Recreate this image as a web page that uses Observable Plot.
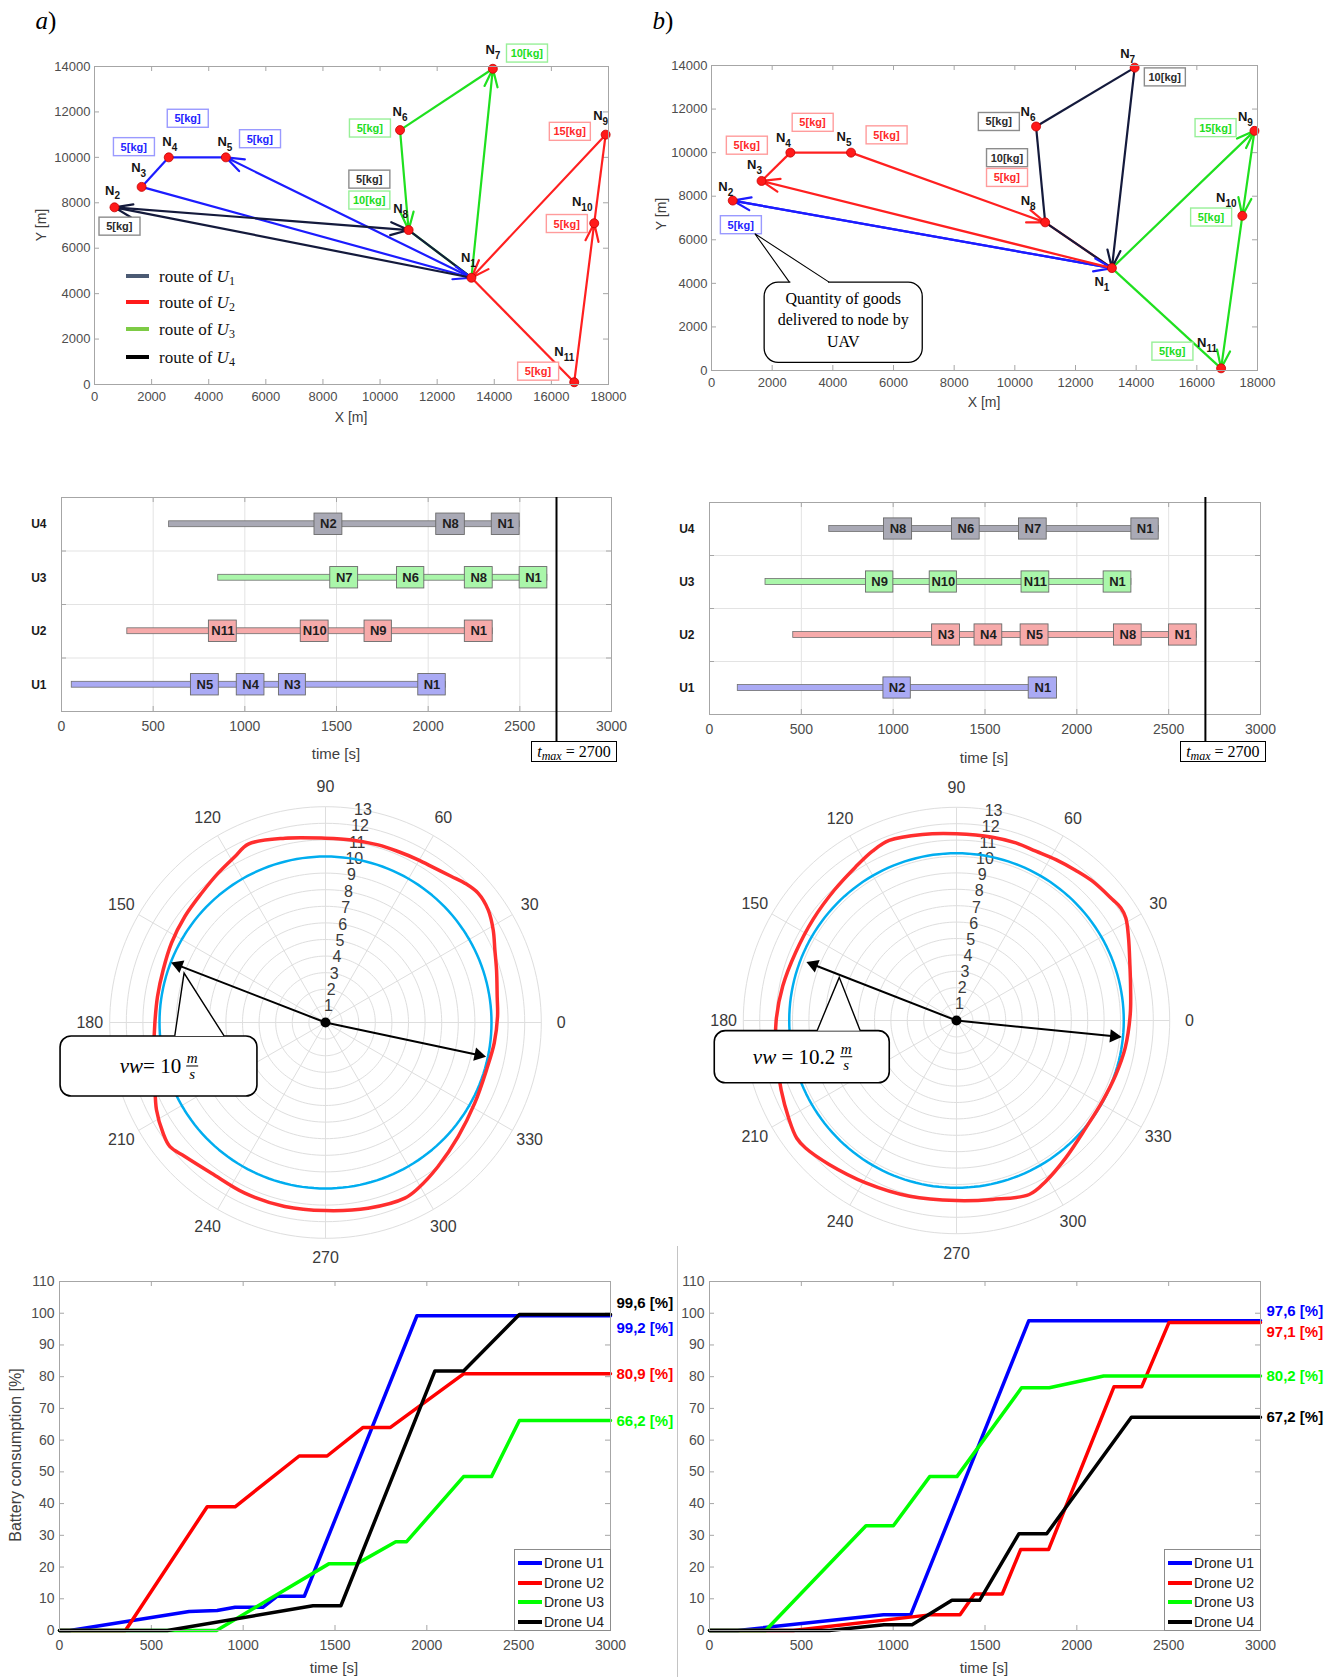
<!DOCTYPE html>
<html>
<head>
<meta charset="utf-8">
<script src="https://cdn.jsdelivr.net/npm/d3@7"></script>
<script src="https://cdn.jsdelivr.net/npm/@observablehq/plot@0.6"></script>
<style>
  html,body{margin:0;padding:0;background:#fff;}
  #page{position:relative;width:1341px;height:1677px;overflow:hidden;background:#fff;font-family:"Liberation Sans",Arial,Helvetica,sans-serif;color:#404040;}
  .lbl{position:absolute;white-space:nowrap;transform:translate(-50%,-50%);line-height:1;}
  .rot{transform:translate(-50%,-50%) rotate(-90deg);}
  .gantt g[aria-label="y-axis tick label"] text{font-weight:bold;fill:#1a1a1a;}
  .leg{position:absolute;border:1px solid #8c8c8c;background:#fff;box-sizing:border-box;}
  .legline{position:absolute;height:4px;}
  .legtxt{position:absolute;white-space:nowrap;transform:translateY(-50%);line-height:1;}
</style>
</head>
<body>
<div id="page"></div>
<script>
// ================= DATA =================
const nodeNames = ["N1","N2","N3","N4","N5","N6","N7","N8","N9","N10","N11"];
const nodeX = [13200, 700, 1650, 2600, 4600, 10700, 13950, 11000, 17900, 17500, 16800];
const nodeY = [4700, 7800, 8700, 10000, 10000, 11200, 13900, 6800, 11000, 7100, 100];
const mapXTicks = [0,2000,4000,6000,8000,10000,12000,14000,16000,18000];
const mapYTicks = [0,2000,4000,6000,8000,10000,12000,14000];

// route: drone, node sequence, arrowhead on each leg
const routesA = [
  ["U1", ["N1","N5","N4","N3","N1"], [1,0,0,1]],
  ["U2", ["N1","N11","N10","N9","N1"], [0,1,0,1]],
  ["U3", ["N1","N7","N6","N8","N1"], [1,0,1,0]],
  ["U4", ["N1","N2","N8","N1"], [1,1,0]]
];
const routesB = [
  ["U1", ["N1","N2","N1"], [1,1]],
  ["U2", ["N1","N3","N4","N5","N8","N1"], [1,0,0,1,0]],
  ["U3", ["N1","N9","N10","N11","N1"], [1,1,1,0]],
  ["U4", ["N1","N8","N6","N7","N1"], [0,0,0,1]]
];
// goods labels: x, y, text, drone
const kgA = [
  [3260,11700,"5[kg]","U1"],[5790,10800,"5[kg]","U1"],[1375,10450,"5[kg]","U1"],
  [870,6950,"5[kg]","U4"],[9620,9020,"5[kg]","U4"],
  [9620,8100,"10[kg]","U3"],[9640,11270,"5[kg]","U3"],[15140,14570,"10[kg]","U3"],
  [16640,11125,"15[kg]","U2"],[16535,7066,"5[kg]","U2"],[15530,566,"5[kg]","U2"]
];
const kgB = [
  [14940,13455,"10[kg]","U4"],[9467,11408,"5[kg]","U4"],[9737,9746,"10[kg]","U4"],
  [9737,8841,"5[kg]","U2"],[3330,11370,"5[kg]","U2"],[5767,10795,"5[kg]","U2"],[1160,10320,"5[kg]","U2"],
  [963,6670,"5[kg]","U1"],
  [16612,11125,"15[kg]","U3"],[16466,7023,"5[kg]","U3"],[15190,866,"5[kg]","U3"]
];
const calloutBoxB = [1752, 6964, 353, 4033];
const calloutTailB = [[2584,4033],[1445,6256],[3893,4033]];
const calloutLinesB = [["Quantity of goods",3297],["delivered to node by",2300],["UAV",1319]];
const calloutCenterXB = 4358;

// Gantt
const ganttRows = ["U1","U2","U3","U4"];
const timeTicks = [0,500,1000,1500,2000,2500,3000];
const tmax = 2700;
const ganttStartA = [["U1",56],["U2",359],["U3",855],["U4",587]];
const ganttStopsA = [
  ["U1","N5",706,858],["U1","N4",956,1107],["U1","N3",1186,1333],["U1","N1",1946,2096],
  ["U2","N11",804,956],["U2","N10",1305,1457],["U2","N9",1653,1802],["U2","N1",2200,2352],
  ["U3","N7",1466,1618],["U3","N6",1830,1979],["U3","N8",2200,2352],["U3","N1",2499,2650],
  ["U4","N2",1380,1532],["U4","N8",2044,2200],["U4","N1",2347,2499]
];
const ganttStartB = [["U1",154],["U2",456],["U3",305],["U4",652]];
const ganttStopsB = [
  ["U1","N2",947,1096],["U1","N1",1738,1892],
  ["U2","N3",1212,1364],["U2","N4",1443,1594],["U2","N5",1694,1846],["U2","N8",2202,2353],["U2","N1",2502,2653],
  ["U3","N9",852,1001],["U3","N10",1199,1347],["U3","N11",1699,1850],["U3","N1",2146,2297],
  ["U4","N8",950,1103],["U4","N6",1320,1471],["U4","N7",1685,1836],["U4","N1",2297,2446]
];

// Polar: [angle deg, radius m/s]
const ringValues = [1,2,3,4,5,6,7,8,9,10,11,12,13];
const angleTicks = [0,30,60,90,120,150,180,210,240,270,300,330];
const vwA = 10, vwB = 10.2;
const redA = [
  [2,10.37],[8.6,10.46],[17.1,10.78],[23.2,11.10],[28.9,11.54],[34.7,11.92],[40.3,12.05],[45,11.87],
  [49.2,11.62],[54.7,11.39],[60.3,11.28],[67,11.19],[73.5,11.16],[81.9,11.11],[90,11.10],[102.4,11.37],
  [113.4,11.71],[118.6,11.39],[125.7,11.08],[133.8,10.79],[143,10.61],[152.7,10.44],[162,10.28],[171.2,10.24],
  [180.2,10.28],[189,10.47],[199.6,10.91],[207.3,11.46],[214.3,11.84],[218.5,11.99],[223.6,11.70],[232.9,11.38],
  [244.7,11.37],[257.5,11.35],[270,11.33],[282.9,11.48],[294.3,11.61],[299.2,11.44],[308,11.01],[319.3,10.54],
  [331.6,10.22],[343.6,10.11],[353,10.24]
];
const redB = [
  [2,10.6],[10.6,10.8],[17.9,11.11],[25.7,11.64],[31.2,12.07],[34.4,12.15],[37.8,12.04],[45.7,11.87],
  [51.5,11.69],[58.3,11.53],[64.9,11.40],[71.5,11.42],[78.9,11.39],[90,11.38],[100.4,11.53],[110.5,11.72],
  [116.4,11.53],[123.4,11.2],[133,10.9],[144.8,10.7],[157,10.65],[168.8,10.8],[180.2,11.0],[191.2,11.2],
  [201.6,11.5],[210.4,11.85],[216.4,12.1],[220.2,12.05],[228.5,11.72],[240.8,11.34],[255.1,11.09],[270,10.98],
  [281.4,11.13],[292.7,11.50],[299.1,11.21],[308.5,10.70],[320.3,10.25],[331.1,10.17],[341.3,10.26],[350.8,10.42]
];
const arrowsA = [[158.8,9.96],[348,9.87]];
const arrowsB = [[158.7,9.8],[354.3,10.1]];
const calloutA = {box:[-15.96,-4.10,-0.84,-4.46], tail:[[-9.05,-0.84],[-8.49,2.95],[-6.08,-0.84]], frac:[-8.0,-2.65], lead:"= 10"};
const calloutB = {box:[-14.74,-4.07,-0.65,-3.83], tail:[[-8.47,-0.65],[-7.12,2.60],[-5.84,-0.65]], frac:[-6.69,-2.24], lead:" = 10.2"};

// Battery consumption [time s, %]
const batTicks = [0,10,20,30,40,50,60,70,80,90,100,110];
const batA1 = [[0,0],[56,0],[706,6],[858,6.3],[956,7.3],[1107,7.3],[1186,10.8],[1333,10.8],[1946,99.2],[3000,99.2]];
const batA2 = [[0,0],[359,0],[804,39],[956,39],[1305,55],[1457,55],[1653,64],[1802,64],[2200,80.9],[3000,80.9]];
const batA3 = [[0,0],[855,0],[1466,21],[1618,21],[1831,28],[1890,28],[2200,48.5],[2352,48.5],[2504,66.2],[3000,66.2]];
const batA4 = [[0,0],[587,0],[1380,7.8],[1532,7.8],[2044,81.8],[2200,81.8],[2504,99.6],[3000,99.6]];
const batB1 = [[0,0],[154,0],[947,5],[1096,5],[1738,97.6],[3000,97.6]];
const batB2 = [[0,0],[456,0],[1212,5],[1364,5],[1443,11.5],[1594,11.5],[1694,25.5],[1846,25.5],[2202,76.8],[2353,76.8],[2502,97.1],[3000,97.1]];
const batB3 = [[0,0],[305,0],[852,33],[1001,33],[1199,48.5],[1347,48.5],[1699,76.5],[1850,76.5],[2146,80.2],[3000,80.2]];
const batB4 = [[0,0],[652,0],[950,1.8],[1103,1.8],[1320,9.5],[1471,9.5],[1685,30.5],[1836,30.5],[2297,67.2],[3000,67.2]];
const endA = [["U4",99.6,"99,6 [%]"],["U1",99.2,"99,2 [%]"],["U2",80.9,"80,9 [%]"],["U3",66.2,"66,2 [%]"]];
const endB = [["U1",97.6,"97,6 [%]"],["U2",97.1,"97,1 [%]"],["U3",80.2,"80,2 [%]"],["U4",67.2,"67,2 [%]"]];

// ================= STYLE =================
const FONT = '"Liberation Sans", Arial, Helvetica, sans-serif';
const NARROW = '"Liberation Sans Narrow", "Liberation Sans", Arial, sans-serif';
const SERIF = '"Liberation Serif", "Times New Roman", serif';
const routeColor = {U1:"#1c1cff", U2:"#ff2020", U3:"#1fe01f", U4:"#141a3c"};
const kgText = {U1:"#2424ff", U2:"#ff2a2a", U3:"#22dd22", U4:"#2b2b2b"};
const kgBorder = {"#2424ff":"#9a9aff","#ff2a2a":"#ff9c9c","#22dd22":"#98f098","#2b2b2b":"#8c8c8c"};
const ganttFill = {U1:"#aaaaf4", U2:"#f6aaaa", U3:"#aaf6aa", U4:"#a9a9b5"};
const lineColor = {U1:"#0000ff", U2:"#ff0000", U3:"#00ff00", U4:"#000000"};
const labelOffA = {N1:[-3,-20],N2:[-2,-17],N3:[-3,-19],N4:[1,-16],N5:[-1,-16],N6:[0,-18],N7:[0,-19],N8:[-8,-21],N9:[-5,-19],N10:[-12,-21],N11:[-10,-30]};
const labelOffB = {N1:[-10,14],N2:[-7,-14],N3:[-7,-16],N4:[-7,-15],N5:[-7,-16],N6:[-8,-15],N7:[-7,-14],N8:[-17,-22],N9:[-9,-14],N10:[-16,-18],N11:[-14,-25]};
const nudgeA = [-11, 12, 0, 1];
const nudgeB = [-10, 10, 0, 0];
const FRAME = "#a6a6a6";

const page = document.getElementById("page");
function place(node, left, top){ node.style.position="absolute"; node.style.left=left+"px"; node.style.top=top+"px"; page.appendChild(node); return node; }
function txt(html, x, y, css, rot){ const d=document.createElement("div"); d.className="lbl"+(rot?" rot":""); d.style.left=x+"px"; d.style.top=y+"px"; if(css) d.style.cssText+=css; d.innerHTML=html; page.appendChild(d); return d; }
const SVGNS = "http://www.w3.org/2000/svg";

function inwardTicks(xt, yt, fw, fh, len){
  const m = [];
  if (xt) { m.push(Plot.tickX(xt,{x:d=>d,insetTop:fh-len,stroke:FRAME})); m.push(Plot.tickX(xt,{x:d=>d,insetBottom:fh-len,stroke:FRAME})); }
  if (yt) { m.push(Plot.tickY(yt,{y:d=>d,insetRight:fw-len,stroke:FRAME})); m.push(Plot.tickY(yt,{y:d=>d,insetLeft:fw-len,stroke:FRAME})); }
  return m;
}

// ================= ROUTE MAPS =================
function routeMap(o){
  const pos = {}; nodeNames.forEach((n,i)=>pos[n]={n,x:nodeX[i],y:nodeY[i]});
  const nodes = nodeNames.map(n=>pos[n]);
  const edges = [];
  o.routes.forEach(([u,path,heads])=>{ for(let i=0;i<path.length-1;i++) edges.push({u,a:pos[path[i]],b:pos[path[i+1]],head:heads[i]}); });
  const fw = o.width-o.ml-o.mr, fh = o.height-o.mt-o.mb;
  const kg = o.kg.map(([x,y,t,u])=>({x,y,t,u}));
  const labelMarks = nodes.map(d=>{ const off=o.labelOff[d.n]; return Plot.text([d],{x:"x",y:"y",text:"n",dx:off[0],dy:off[1],fontWeight:"bold",fontSize:13,fill:"#151515",fontFamily:FONT}); });
  const ep = {x1:e=>e.a.x,y1:e=>e.a.y,x2:e=>e.b.x,y2:e=>e.b.y,stroke:e=>routeColor[e.u],strokeWidth:2.2};
  const svg = Plot.plot({
    width:o.width, height:o.height, marginLeft:o.ml, marginRight:o.mr, marginTop:o.mt, marginBottom:o.mb,
    x:{domain:[0,18000]}, y:{domain:[0,14000]},
    style:{background:"transparent",overflow:"visible",fontFamily:FONT,fontSize:"13px",color:"#4d4d4d"},
    marks:[
      ...inwardTicks(mapXTicks,mapYTicks,fw,fh,5),
      Plot.axisX({ticks:mapXTicks,tickSize:0,tickPadding:7,label:null,tickFormat:d=>String(d)}),
      Plot.axisY({ticks:mapYTicks,tickSize:0,tickPadding:4,label:null,tickFormat:d=>String(d)}),
      Plot.link(edges.filter(e=>!e.head), ep),
      Plot.arrow(edges.filter(e=>e.head), {...ep, headLength:13, headAngle:40}),
      Plot.dot(nodes,{x:"x",y:"y",r:4.5,fill:"#ff1a1a",stroke:"#c40000",strokeWidth:0.8}),
      ...labelMarks,
      Plot.text(kg,{x:"x",y:"y",text:"t",fill:d=>kgText[d.u],fontWeight:"bold",fontSize:11,fontFamily:NARROW}),
      Plot.frame({stroke:FRAME})
    ]
  });
  place(svg, o.left, o.top);
  d3.select(svg).selectAll("text").each(function(){
    const t = this.textContent;
    if (/^N\d+$/.test(t)) {
      this.textContent = "";
      const a = document.createElementNS(SVGNS,"tspan"); a.textContent="N"; this.appendChild(a);
      const b = document.createElementNS(SVGNS,"tspan"); b.textContent=t.slice(1); b.setAttribute("font-size","10"); b.setAttribute("dy","5"); this.appendChild(b);
    } else if (/kg/.test(t)) {
      const bb = this.getBBox();
      const r = document.createElementNS(SVGNS,"rect");
      const w = 41, h = 18;
      r.setAttribute("x", bb.x+bb.width/2-w/2); r.setAttribute("y", bb.y+bb.height/2-h/2);
      r.setAttribute("width", w); r.setAttribute("height", h);
      const f = this.getAttribute("fill") || this.parentNode.getAttribute("fill");
      r.setAttribute("fill","white"); r.setAttribute("stroke", kgBorder[f] || "#999"); r.setAttribute("stroke-width","1.4");
      if (this.getAttribute("transform")) r.setAttribute("transform", this.getAttribute("transform"));
      this.parentNode.insertBefore(r, this);
    }
  });
  return svg;
}

const mapA = routeMap({routes:routesA, kg:kgA, labelOff:labelOffA, left:0, top:40, width:640, height:390, ml:94, mr:32, mt:26, mb:46});
const mapB = routeMap({routes:routesB, kg:kgB, labelOff:labelOffB, left:650, top:40, width:660, height:380, ml:61, mr:53, mt:25, mb:50});

// callout on map b
(function(){
  const sx = mapB.scale("x"), sy = mapB.scale("y");
  const X = v=>sx.apply(v), Y = v=>sy.apply(v);
  const g = d3.select(mapB).append("g");
  const x1=X(calloutBoxB[0]), x2=X(calloutBoxB[1]), y1=Y(calloutBoxB[3]), y2=Y(calloutBoxB[2]);
  g.append("rect").attr("x",x1).attr("y",y1).attr("width",x2-x1).attr("height",y2-y1).attr("rx",14)
    .attr("fill","white").attr("stroke","#000").attr("stroke-width",1.3);
  const t = calloutTailB;
  g.append("line").attr("x1",X(t[0][0])+1).attr("x2",X(t[2][0])-1).attr("y1",Y(t[0][1])).attr("y2",Y(t[0][1])).attr("stroke","white").attr("stroke-width",3);
  g.append("path").attr("d",`M${X(t[0][0])},${Y(t[0][1])}L${X(t[1][0])},${Y(t[1][1])}L${X(t[2][0])},${Y(t[2][1])}`)
    .attr("fill","none").attr("stroke","#000").attr("stroke-width",1.1);
  calloutLinesB.forEach(([s,yv])=>{
    g.append("text").attr("x",X(calloutCenterXB)).attr("y",Y(yv)).attr("dy","0.35em").attr("text-anchor","middle")
      .attr("font-family",SERIF).attr("font-size",16).attr("fill","#000").text(s);
  });
})();

// panel letters, axis titles, legend
txt('<i>a</i>)', 46, 20, `font-family:${SERIF};font-size:25px;color:#000;`);
txt('<i>b</i>)', 663, 20, `font-family:${SERIF};font-size:25px;color:#000;`);
txt('X [m]', 351, 417, 'font-size:14px;');
txt('Y [m]', 41, 225, 'font-size:14px;', true);
txt('X [m]', 984, 402, 'font-size:14px;');
txt('Y [m]', 661, 214, 'font-size:14px;', true);
const routeLegendA = [["U1","#4b5a73","1"],["U2","#ff1a1a","2"],["U3","#7dcb45","3"],["U4","#000000","4"]];
const routeLegendY = [276, 302, 329, 357];
routeLegendA.forEach(([u,c,k],i)=>{
  const l = document.createElement("div"); l.className="legline"; l.style.cssText=`left:126px;top:${routeLegendY[i]-2}px;width:23px;background:${c};`; page.appendChild(l);
  const t = document.createElement("div"); t.className="legtxt";
  t.style.cssText=`left:159px;top:${routeLegendY[i]}px;font-family:${SERIF};font-size:17px;color:#111;`;
  t.innerHTML = `route of <i>U</i><sub style="font-size:12px;vertical-align:-3px;line-height:0">${k}</sub>`;
  page.appendChild(t);
});

// ================= GANTT =================
function gantt(o){
  const rowIdx = u => ganttRows.indexOf(u)+1;
  const ends = {}; o.stops.forEach(([u,n,a,b])=>{ ends[u]=Math.max(ends[u]||0,b); });
  const starts = o.starts.map(([u,s])=>({u,s,e:ends[u],r:rowIdx(u)}));
  const stops = o.stops.map(([u,n,a,b])=>({u,n,a,b,r:rowIdx(u)}));
  const fw = o.width-o.ml-o.mr, fh = o.height-o.mt-o.mb;
  const svg = Plot.plot({
    width:o.width, height:o.height, marginLeft:o.ml, marginRight:o.mr, marginTop:o.mt, marginBottom:o.mb,
    x:{domain:[0,3000]}, y:{domain:[0.5,4.5]},
    style:{background:"transparent",overflow:"visible",fontFamily:FONT,fontSize:"14px",color:"#4d4d4d"},
    marks:[
      Plot.ruleX(timeTicks.slice(1,-1),{x:d=>d,stroke:"#e3e3e3"}),
      Plot.ruleY([1.5,2.5,3.5],{y:d=>d,stroke:"#e3e3e3"}),
      Plot.tickY([1.5,2.5,3.5],{y:d=>d,insetRight:fw-5,stroke:FRAME}),
      Plot.tickY([1.5,2.5,3.5],{y:d=>d,insetLeft:fw-5,stroke:FRAME}),
      Plot.tickX(timeTicks,{x:d=>d,insetTop:fh-5,stroke:FRAME}),
      Plot.tickX(timeTicks,{x:d=>d,insetBottom:fh-5,stroke:FRAME}),
      Plot.rect(starts,{x1:"s",x2:"e",y1:d=>d.r-0.055,y2:d=>d.r+0.055,fill:d=>ganttFill[d.u],stroke:"#6e6e6e",strokeWidth:0.8}),
      Plot.rect(stops,{x1:"a",x2:"b",y1:d=>d.r-0.2,y2:d=>d.r+0.2,fill:d=>ganttFill[d.u],stroke:"#6a6a6a",strokeWidth:0.9}),
      Plot.text(stops,{x:d=>(d.a+d.b)/2,y:"r",text:"n",fontWeight:"bold",fontSize:13,fill:"#1e1e1e",fontFamily:NARROW}),
      Plot.frame({stroke:FRAME}),
      Plot.ruleX([tmax],{x:d=>d,stroke:"#000",strokeWidth:2,insetBottom:-30,insetTop:o.tmaxTop}),
      Plot.axisX({ticks:timeTicks,tickSize:0,tickPadding:10,label:null,tickFormat:d=>String(d)}),
      Plot.axisY({ticks:[1,2,3,4],tickSize:0,tickPadding:15,label:null,tickFormat:d=>ganttRows[d-1],fontSize:12})
    ]
  });
  svg.classList.add("gantt");
  place(svg, o.left, o.top);
  const xt = svg.scale("x").apply(tmax) + o.left;
  const b = document.createElement("div");
  b.style.cssText = `position:absolute;left:${xt-25}px;top:741px;width:86px;height:21px;box-sizing:border-box;border:1.3px solid #000;background:#fff;font-family:${SERIF};font-size:16px;color:#000;text-align:center;line-height:19px;white-space:nowrap;`;
  b.innerHTML = `<i>t</i><sub style="font-size:12px;font-style:italic;vertical-align:-3px;line-height:0">max</sub> = 2700`;
  page.appendChild(b);
  return svg;
}
gantt({starts:ganttStartA, stops:ganttStopsA, left:0, top:470, width:640, height:300, ml:61, mr:29, mt:27, mb:59, tmaxTop:0});
gantt({starts:ganttStartB, stops:ganttStopsB, left:650, top:470, width:660, height:300, ml:59, mr:50, mt:32, mb:56, tmaxTop:-5});
txt('time [s]', 336, 753, 'font-size:15px;');
txt('time [s]', 984, 757, 'font-size:15px;');

// ================= POLAR =================
const deg = Math.PI/180;
function polar(o){
  const w = 560, h = 500, xd = w/2/o.u, yd = h/2/o.u;
  const P = (a,r)=>[r*Math.cos(a*deg), r*Math.sin(a*deg)];
  const ring = []; ringValues.forEach(r=>{ for(let a=0;a<360;a+=2){ const [x,y]=P(a,r); ring.push({r,x,y}); } });
  const blue = []; for(let a=0;a<360;a+=2){ const [x,y]=P(a,o.vw); blue.push({x,y}); }
  const red = o.red.map(([a,r])=>{ const [x,y]=P(a,r); return {x,y}; });
  const spokes = angleTicks.map(a=>{ const [x,y]=P(a,13); return {x,y}; });
  const angLbl = angleTicks.map(a=>{ const [x,y]=P(a,14.2); return {x,y,t:String(a)}; });
  const radLbl = ringValues.map(r=>{ const [x,y]=P(80,r); return {x,y,t:String(r)}; });
  const arr = o.arrows.map(([a,r])=>{ const [hx,hy]=P(a,r-0.45); return {hx,hy,rot:90-a}; });
  const svg = Plot.plot({
    width:w, height:h, margin:0,
    x:{domain:[-xd,xd],axis:null}, y:{domain:[-yd,yd],axis:null},
    style:{background:"transparent",overflow:"visible",fontFamily:FONT,fontSize:"16px",color:"#404040"},
    marks:[
      Plot.line(ring,{x:"x",y:"y",z:"r",stroke:"#dedede",strokeWidth:1,curve:"linear-closed"}),
      Plot.link(spokes,{x1:()=>0,y1:()=>0,x2:"x",y2:"y",stroke:"#dedede",strokeWidth:1}),
      Plot.text(angLbl,{x:"x",y:"y",text:"t",fontSize:16,fill:"#3a3a3a"}),
      Plot.text(radLbl,{x:"x",y:"y",text:"t",fontSize:16,fill:"#3a3a3a"}),
      Plot.line(blue,{x:"x",y:"y",stroke:"#00adef",strokeWidth:2.5,curve:"linear-closed"}),
      Plot.line(red,{x:"x",y:"y",stroke:"#ff2e2e",strokeWidth:3.5,curve:"catmull-rom-closed"}),
      Plot.link(arr,{x1:()=>0,y1:()=>0,x2:"hx",y2:"hy",stroke:"#000",strokeWidth:2}),
      Plot.dot(arr,{x:"hx",y:"hy",symbol:"triangle",rotate:"rot",r:5,fill:"#000"}),
      Plot.dot([0],{x:()=>0,y:()=>0,r:5,fill:"#000"})
    ]
  });
  place(svg, o.cx-w/2, o.cy-h/2);
  const sx = svg.scale("x"), sy = svg.scale("y");
  const X = v=>sx.apply(v), Y = v=>sy.apply(v);
  const c = o.callout;
  const g = d3.select(svg).append("g");
  const x1=X(c.box[0]), x2=X(c.box[1]), y1=Y(c.box[2]), y2=Y(c.box[3]);
  g.append("rect").attr("x",x1).attr("y",y1).attr("width",x2-x1).attr("height",y2-y1).attr("rx",11)
    .attr("fill","white").attr("stroke","#000").attr("stroke-width",1.6);
  const t = c.tail;
  g.append("path").attr("d",`M${X(t[0][0])},${Y(t[0][1])}L${X(t[1][0])},${Y(t[1][1])}L${X(t[2][0])},${Y(t[2][1])}Z`)
    .attr("fill","white").attr("stroke","none");
  g.append("path").attr("d",`M${X(t[0][0])},${Y(t[0][1])}L${X(t[1][0])},${Y(t[1][1])}L${X(t[2][0])},${Y(t[2][1])}`)
    .attr("fill","none").attr("stroke","#000").attr("stroke-width",1.4);
  const fx = X(c.frac[0]), fy = Y(c.frac[1]);
  const tx = g.append("text").attr("x",fx-11).attr("y",fy+7).attr("text-anchor","end")
    .attr("font-family",SERIF).attr("font-size",21).attr("fill","#000");
  tx.append("tspan").attr("font-style","italic").text("vw");
  tx.append("tspan").text(c.lead);
  g.append("line").attr("x1",fx-6).attr("x2",fx+6).attr("y1",fy).attr("y2",fy).attr("stroke","#000").attr("stroke-width",1);
  g.append("text").attr("x",fx).attr("y",fy-3).attr("text-anchor","middle").attr("font-family",SERIF).attr("font-style","italic").attr("font-size",15).attr("fill","#000").text("m");
  g.append("text").attr("x",fx).attr("y",fy+13).attr("text-anchor","middle").attr("font-family",SERIF).attr("font-style","italic").attr("font-size",15).attr("fill","#000").text("s");
  return svg;
}
polar({red:redA, vw:vwA, u:16.6, cx:325, cy:1022, arrows:arrowsA, callout:calloutA});
polar({red:redB, vw:vwB, u:16.4, cx:956, cy:1020, arrows:arrowsB, callout:calloutB});

// ================= BATTERY =================
function battery(o){
  const series = o.series.flatMap(([u,pts])=>pts.map(([t,v])=>({u,t,v})));
  const fw = o.width-o.ml-o.mr, fh = o.height-o.mt-o.mb;
  const ends = o.ends.map(([u,v,s],i)=>Plot.text([{u,v,s}],{x:()=>3000,y:"v",text:"s",dx:6,dy:o.nudge[i],textAnchor:"start",fill:lineColor[u],fontWeight:"bold",fontSize:15,fontFamily:NARROW}));
  const svg = Plot.plot({
    width:o.width, height:o.height, marginLeft:o.ml, marginRight:o.mr, marginTop:o.mt, marginBottom:o.mb,
    x:{domain:[0,3000]}, y:{domain:[0,110]},
    style:{background:"transparent",overflow:"visible",fontFamily:FONT,fontSize:"14px",color:"#4d4d4d"},
    marks:[
      ...inwardTicks(timeTicks,batTicks,fw,fh,5),
      Plot.axisX({ticks:timeTicks,tickSize:0,tickPadding:10,label:null,tickFormat:d=>String(d)}),
      Plot.axisY({ticks:batTicks,tickSize:0,tickPadding:5,label:null,tickFormat:d=>String(d)}),
      Plot.line(series,{x:"t",y:"v",z:"u",stroke:d=>lineColor[d.u],strokeWidth:3.5}),
      ...ends,
      Plot.frame({stroke:FRAME})
    ]
  });
  place(svg, o.left, o.top);
  const sx = svg.scale("x");
  const right = sx.apply(3000) + o.left;
  const lg = document.createElement("div"); lg.className="leg";
  lg.style.cssText += `left:${right-96}px;top:1549px;width:97px;height:82px;`;
  ["U1","U2","U3","U4"].forEach((u,i)=>{
    const y = 13 + i*19.5;
    const l = document.createElement("div"); l.className="legline"; l.style.cssText=`left:3px;top:${y-2}px;width:24px;background:${lineColor[u]};`; lg.appendChild(l);
    const t = document.createElement("div"); t.className="legtxt"; t.style.cssText=`left:29px;top:${y}px;font-size:14px;color:#222;`; t.textContent = "Drone "+u; lg.appendChild(t);
  });
  page.appendChild(lg);
  return svg;
}
battery({series:[["U1",batA1],["U2",batA2],["U3",batA3],["U4",batA4]], ends:endA, nudge:nudgeA, left:0, top:1262, width:680, height:415, ml:59, mr:70, mt:19, mb:47});
battery({series:[["U1",batB1],["U2",batB2],["U3",batB3],["U4",batB4]], ends:endB, nudge:nudgeB, left:649, top:1262, width:681, height:415, ml:60, mr:70, mt:19, mb:47});
txt('time [s]', 334, 1667, 'font-size:15px;');
txt('time [s]', 984, 1667, 'font-size:15px;');
txt('Battery consumption [%]', 16, 1455, 'font-size:16px;', true);

// separator
const sep = document.createElement("div");
sep.style.cssText = "position:absolute;left:677px;top:1246px;width:1px;height:431px;background:#c4c4c4;";
page.appendChild(sep);
</script>
</body>
</html>
